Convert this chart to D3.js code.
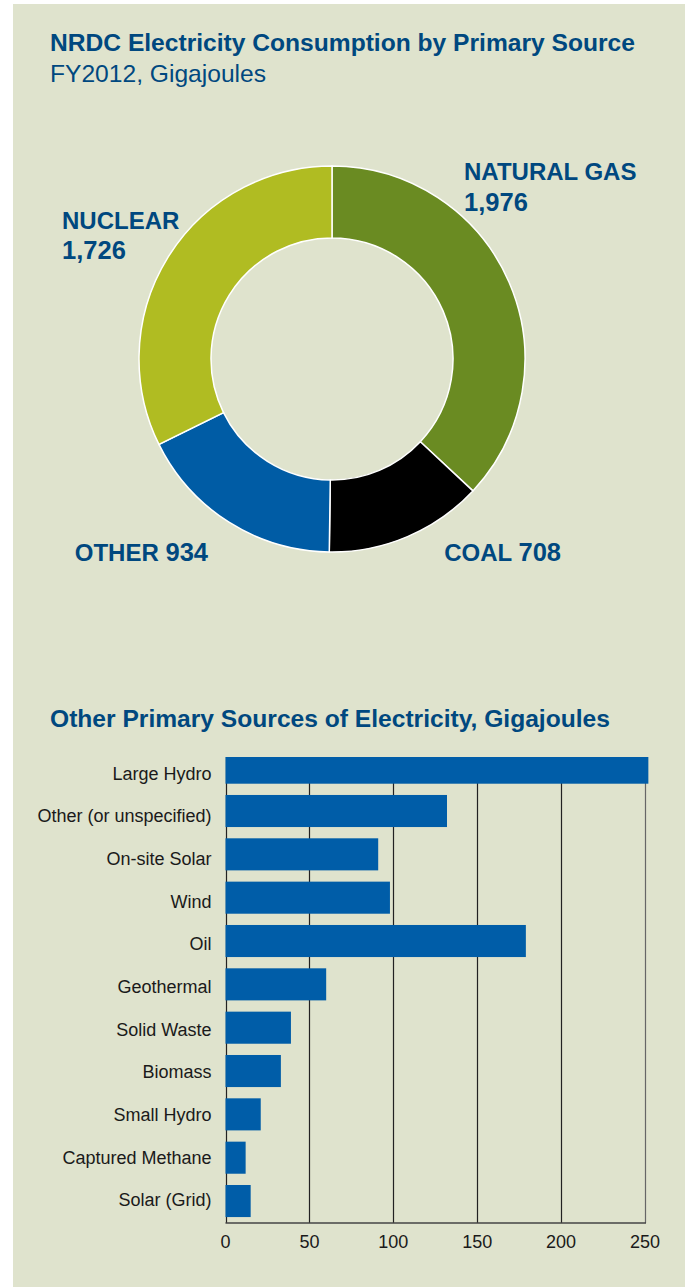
<!DOCTYPE html>
<html>
<head>
<meta charset="utf-8">
<script src="https://cdn.jsdelivr.net/npm/d3@7"></script>
<style>
  body { margin: 0; background: #fff; }
  svg { display: block; font-family: "Liberation Sans", Arial, sans-serif; }
</style>
</head>
<body>
<div id="chart"></div>
<script>
// donut data
var sourceNames = ["NATURAL GAS", "COAL", "OTHER", "NUCLEAR"];
var sourceValues = [1976, 708, 934, 1726];
var sourceColors = ["#6a8b22", "#000000", "#005ca5", "#b0bc22"];

// bar data
var otherNames = ["Large Hydro", "Other (or unspecified)", "On-site Solar", "Wind", "Oil",
  "Geothermal", "Solid Waste", "Biomass", "Small Hydro", "Captured Methane", "Solar (Grid)"];
var otherValues = [252, 132, 91, 98, 179, 60, 39, 33, 21, 12, 15];
var xTicks = [0, 50, 100, 150, 200, 250];

var width = 688, height = 1287;
var navy = "#00487f";

var svg = d3.select("#chart")
  .append("svg")
  .attr("width", width)
  .attr("height", height);

// panel background
svg.append("rect")
  .attr("x", 13).attr("y", 4)
  .attr("width", 672).attr("height", height - 4)
  .style("fill", "#dfe3cd");

// titles
svg.append("text")
  .attr("x", 50).attr("y", 51)
  .style("font-size", "24.6px").style("font-weight", "bold").style("fill", navy)
  .text("NRDC Electricity Consumption by Primary Source");

svg.append("text")
  .attr("x", 50).attr("y", 81.5)
  .style("font-size", "24.6px").style("fill", navy)
  .text("FY2012, Gigajoules");

// donut
var cx = 332, cy = 359;
var pie = d3.pie().sort(null).value(function(d) { return d; });
var arc = d3.arc().innerRadius(121).outerRadius(193);

var donut = svg.append("g")
  .attr("transform", "translate(" + cx + "," + cy + ")");

donut.selectAll("path")
  .data(pie(sourceValues))
  .enter()
  .append("path")
  .attr("d", arc)
  .style("fill", function(d, i) { return sourceColors[i]; })
  .style("stroke", "#fff")
  .style("stroke-width", 1.5);

// donut labels (position of each text block, value on same or next line)
var labelLayout = [
  {x: 464, y: 180, anchor: "start", split: true},
  {x: 561, y: 560.5, anchor: "end", split: false},
  {x: 208, y: 560.5, anchor: "end", split: false},
  {x: 62, y: 228.5, anchor: "start", split: true}
];

svg.append("g")
  .selectAll("text")
  .data(sourceNames)
  .enter()
  .append("text")
  .attr("x", function(d, i) { return labelLayout[i].x; })
  .attr("y", function(d, i) { return labelLayout[i].y; })
  .attr("text-anchor", function(d, i) { return labelLayout[i].anchor; })
  .style("font-size", "24px").style("font-weight", "bold").style("fill", navy)
  .each(function(d, i) {
    var t = d3.select(this);
    var val = d3.format(",")(sourceValues[i]);
    if (labelLayout[i].split) {
      t.append("tspan").text(d);
      t.append("tspan").attr("x", labelLayout[i].x).attr("dy", 30.7)
        .style("font-size", "25.5px").text(val);
    } else {
      t.append("tspan").text(d + " ");
      t.append("tspan").style("font-size", "25.5px").text(val);
    }
  });

// bar chart title
svg.append("text")
  .attr("x", 50).attr("y", 727)
  .style("font-size", "24.6px").style("font-weight", "bold").style("fill", navy)
  .text("Other Primary Sources of Electricity, Gigajoules");

var plotTop = 757, plotBottom = 1223;

var xScale = d3.scaleLinear()
  .domain([0, 250])
  .range([225.5, 645]);

var yScale = d3.scaleBand()
  .domain(otherNames)
  .range([746, 1222.7])
  .paddingInner(0.26)
  .paddingOuter(0.13);

var labelScale = d3.scalePoint()
  .domain(otherNames)
  .range([773.5, 1200]);

svg.append("clipPath")
  .attr("id", "plotClip")
  .append("rect")
  .attr("x", 0).attr("y", plotTop)
  .attr("width", width).attr("height", plotBottom - plotTop);

// gridlines
svg.append("g")
  .selectAll("line")
  .data(xTicks)
  .enter()
  .append("line")
  .attr("x1", function(d) { return Math.round(xScale(d)) + 0.5; })
  .attr("x2", function(d) { return Math.round(xScale(d)) + 0.5; })
  .attr("y1", plotTop)
  .attr("y2", plotBottom)
  .style("stroke", function(d) { return d === 250 ? "#666" : "#222"; })
  .style("stroke-width", 1.2);

// axis line along the bottom
svg.append("line")
  .attr("x1", xScale(0)).attr("x2", xScale(250) + 1)
  .attr("y1", plotBottom).attr("y2", plotBottom)
  .style("stroke", "#444").style("stroke-width", 1.4);

// bars
svg.append("g")
  .attr("clip-path", "url(#plotClip)")
  .selectAll("rect")
  .data(otherValues)
  .enter()
  .append("rect")
  .attr("x", xScale(0))
  .attr("y", function(d, i) { return yScale(otherNames[i]); })
  .attr("width", function(d) { return xScale(d) - xScale(0); })
  .attr("height", yScale.bandwidth())
  .style("fill", "#005da8");

// category labels
svg.append("g")
  .selectAll("text")
  .data(otherNames)
  .enter()
  .append("text")
  .attr("x", 211.5)
  .attr("y", function(d) { return labelScale(d); })
  .attr("dy", "0.35em")
  .attr("text-anchor", "end")
  .style("font-size", "18px").style("fill", "#1a1a1a")
  .text(function(d) { return d; });

// tick labels
svg.append("g")
  .selectAll("text")
  .data(xTicks)
  .enter()
  .append("text")
  .attr("x", function(d) { return xScale(d); })
  .attr("y", 1248)
  .attr("text-anchor", "middle")
  .style("font-size", "18px").style("fill", "#1a1a1a")
  .text(function(d) { return d; });
</script>
</body>
</html>
